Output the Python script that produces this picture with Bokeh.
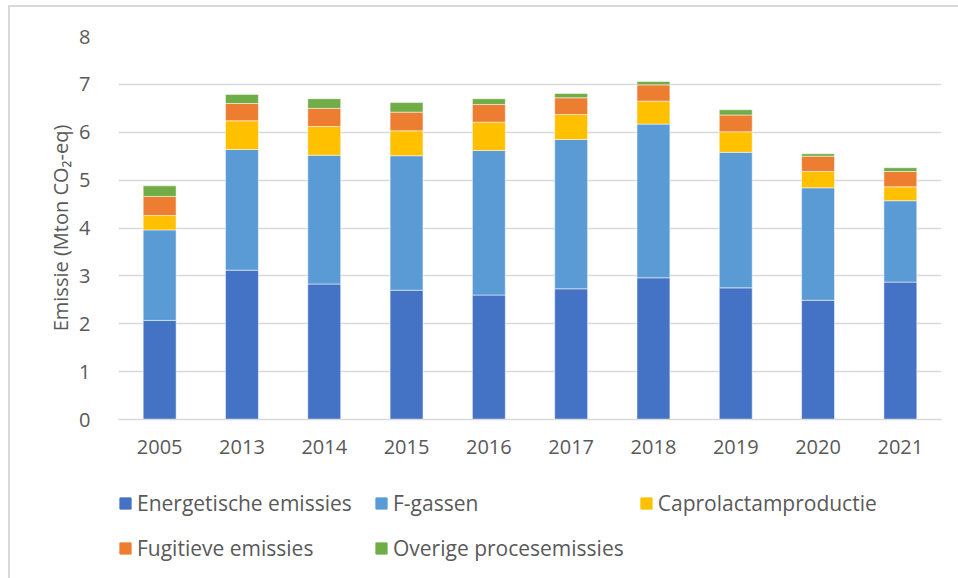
from bokeh.plotting import figure
from bokeh.layouts import column
from bokeh.models import Range1d, FixedTicker, Legend, LegendItem, ColumnDataSource
from bokeh.embed import file_html
from bokeh.resources import INLINE

years = ["2005", "2013", "2014", "2015", "2016", "2017", "2018", "2019", "2020", "2021"]
energetisch = [2.07, 3.12, 2.83, 2.70, 2.60, 2.73, 2.96, 2.75, 2.49, 2.87]
f_gassen = [1.89, 2.52, 2.69, 2.81, 3.02, 3.12, 3.21, 2.83, 2.35, 1.70]
caprolactam = [0.30, 0.60, 0.60, 0.52, 0.59, 0.52, 0.48, 0.43, 0.34, 0.29]
fugitief = [0.40, 0.36, 0.38, 0.39, 0.37, 0.35, 0.34, 0.35, 0.32, 0.32]
overig = [0.22, 0.19, 0.20, 0.20, 0.12, 0.09, 0.07, 0.11, 0.05, 0.08]

series_keys = ["energetisch", "f_gassen", "caprolactam", "fugitief", "overig"]
series_names = ["Energetische emissies", "F-gassen", "Caprolactamproductie",
                "Fugitieve emissies", "Overige procesemissies"]
colors = ["#4472C4", "#5B9BD5", "#FFC000", "#ED7D31", "#70AD47"]
y_ticks = [0, 1, 2, 3, 4, 5, 6, 7, 8]

source = ColumnDataSource(dict(years=years, energetisch=energetisch, f_gassen=f_gassen,
                               caprolactam=caprolactam, fugitief=fugitief, overig=overig))

FONT = "Open Sans"
TXT = "#595959"
GRID = "#d9d9d9"

# main chart
p = figure(x_range=years, y_range=Range1d(0, 8), width=948, height=470,
           output_backend="svg", toolbar_location=None,
           min_border_left=108, min_border_top=29, min_border_right=17, min_border_bottom=58)
p.outline_line_color = None

renderers = p.vbar_stack(series_keys, x="years", width=0.4, source=source, color=colors,
                         line_color="white", line_alpha=0.5, line_width=1)

p.yaxis.ticker = FixedTicker(ticks=y_ticks)
p.yaxis.axis_line_color = None
p.yaxis.major_tick_line_color = None
p.yaxis.minor_tick_line_color = None
p.yaxis.major_tick_out = 0
p.yaxis.major_label_standoff = 28
p.yaxis.axis_label = "Emissie (Mton CO₂-eq)"
p.yaxis.axis_label_text_font = FONT
p.yaxis.axis_label_text_font_style = "normal"
p.yaxis.axis_label_text_font_size = "20px"
p.yaxis.axis_label_text_color = TXT
p.yaxis.axis_label_standoff = 2

p.xaxis.axis_line_color = GRID
p.xaxis.axis_line_width = 1.5
p.xaxis.major_tick_line_color = None
p.xaxis.minor_tick_line_color = None
p.xaxis.major_tick_out = 0
p.xaxis.major_label_standoff = 20

for ax in (p.xaxis, p.yaxis):
    ax.major_label_text_font = FONT
    ax.major_label_text_font_size = "20px"
    ax.major_label_text_color = TXT

p.xgrid.grid_line_color = None
p.ygrid.grid_line_color = GRID
p.ygrid.grid_line_width = 1.5

# legend strip (same stacked series, drawn outside its visible y range)
lg = figure(x_range=years, y_range=Range1d(100, 101), width=948, height=101,
            output_backend="svg", toolbar_location=None,
            x_axis_location=None, y_axis_location=None,
            min_border_left=0, min_border_right=0, min_border_top=0, min_border_bottom=0)
lg.outline_line_color = None
lg.xgrid.grid_line_color = None
lg.ygrid.grid_line_color = None
legend_renderers = lg.vbar_stack(series_keys, x="years", width=0.4, source=source, color=colors)

items = [LegendItem(label=n, renderers=[r]) for n, r in zip(series_names, legend_renderers)]
legend = Legend(items=items, location=(0, 15), orientation="horizontal", ncols=3,
                glyph_width=14, glyph_height=14, label_standoff=5, label_width=222,
                label_height=30, spacing=15, padding=0, margin=0,
                label_text_font=FONT, label_text_font_size="21px", label_text_color=TXT,
                border_line_color=None, background_fill_alpha=0)
lg.add_layout(legend, "center")

layout = column(p, lg, spacing=0)
layout.styles = {"border-top": "2px solid #d9d9d9", "border-left": "2px solid #d9d9d9",
                 "margin-left": "8px", "margin-top": "5px"}

open("out.html", "w").write(file_html(layout, INLINE))
